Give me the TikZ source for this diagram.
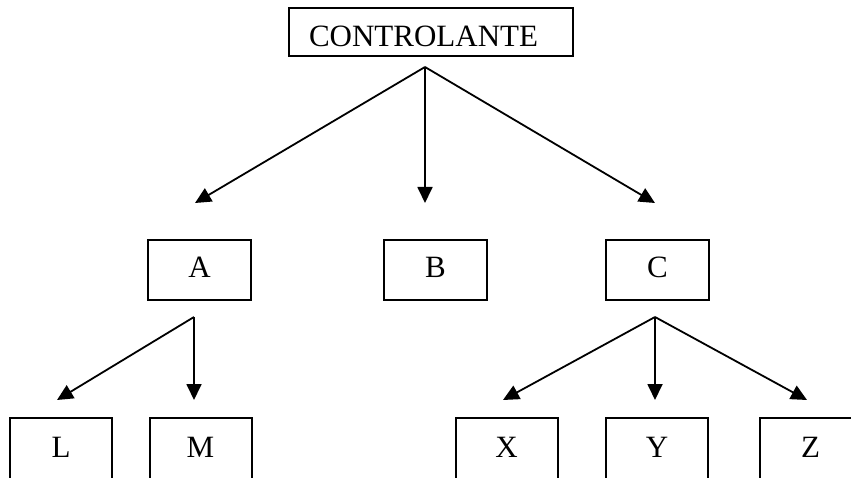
\documentclass[tikz,border=0pt]{standalone}
\usepackage{fontspec}
\setmainfont{Liberation Serif}
\usetikzlibrary{arrows.meta}
\tikzset{
  box/.style={draw, line width=2pt, inner xsep=0pt, inner ysep=0pt, anchor=base,
    font=\fontsize{31pt}{37pt}\selectfont},
  ctrlbox/.style={box, inner xsep=20pt, text width=244pt, align=left, text height=39pt, text depth=9pt},
  midbox/.style={box, minimum width=103pt, text height=37pt, text depth=23pt},
  lowbox/.style={box, minimum width=102pt, text height=39pt, text depth=30pt},
  link/.style={line width=1.8pt, -{Triangle[length=16pt,width=15pt]}}
}
\begin{document}
\begin{tikzpicture}[x=1pt,y=-1pt]
\clip (0,0) rectangle (851,478);
\fill[white] (0,0) rectangle (851,478);
\node[ctrlbox] (ctrl) at (431,47) {CONTROLANTE};
\node[midbox] (A) at (199.5,277) {A};
\node[midbox] (B) at (435.5,277) {B};
\node[midbox] (C) at (657.5,277) {C};
\node[lowbox] (L) at (61,457) {L};
\node[lowbox] (M) at (200.5,457) {M};
\node[lowbox] (X) at (506.5,457) {X};
\node[lowbox] (Y) at (657,457) {Y};
\node[lowbox] (Z) at (810.5,457) {Z};
\coordinate (cf) at (425,67);
\coordinate (tA) at (195,203);
\coordinate (tB) at (425,203);
\coordinate (tC) at (655,203);
\coordinate (af) at (194,317);
\coordinate (tL) at (57,400);
\coordinate (tM) at (194,400);
\coordinate (xf) at (655,317);
\coordinate (tX) at (503,400);
\coordinate (tY) at (655,400);
\coordinate (tZ) at (807,400);
\draw[link] (cf) -- (tA);
\draw[link] (cf) -- (tB);
\draw[link] (cf) -- (tC);
\draw[link] (af) -- (tL);
\draw[link] (af) -- (tM);
\draw[link] (xf) -- (tX);
\draw[link] (xf) -- (tY);
\draw[link] (xf) -- (tZ);
\end{tikzpicture}
\end{document}
